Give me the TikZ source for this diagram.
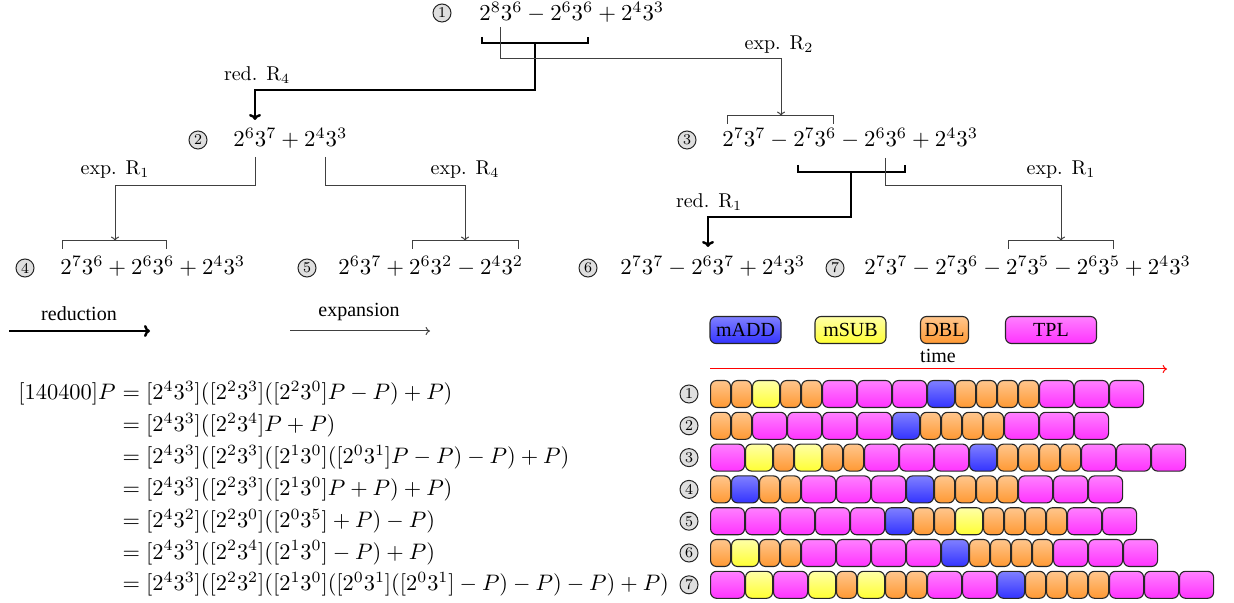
\RequirePackage{fix-cm}
\documentclass[tikz,border=0pt]{standalone}
\usepackage{fontspec}
\newfontfamily\tms{Liberation Serif}
\usetikzlibrary{arrows.meta}
\tikzset{
  num/.style={circle, draw=black!85, line width=0.5pt, fill=gray!25, inner sep=0pt, minimum size=9pt, font=\fontsize{7.5}{7.5}\selectfont},
  expr/.style={anchor=base west, inner sep=0pt, font=\fontsize{11.4}{13}\selectfont},
  eqn/.style={anchor=base west, inner sep=0pt, font=\fontsize{11.2}{13}\selectfont},
  lbl/.style={inner sep=0pt, font=\fontsize{10}{12}\selectfont},
  tlbl/.style={inner sep=0pt, font=\tms\fontsize{10}{12}\selectfont},
  thinc/.style={draw=black!75, line width=0.5pt},
  thinarr/.style={thinc, -{To[length=2.2pt,width=4pt]}},
  thickc/.style={draw=black, line width=1.2pt},
  thickarr/.style={thickc, -{To[length=3pt,width=6pt]}},
  opbase/.style={draw=black!85, line width=0.55pt, rounded corners=3pt, minimum height=13.5pt, inner sep=0pt, anchor=west},
  opD/.style={opbase, minimum width=10pt, top color=orange!45, bottom color=orange!80},
  opA/.style={opbase, minimum width=13.5pt, top color=blue!50, bottom color=blue!80},
  opS/.style={opbase, minimum width=13.5pt, top color=yellow!35, bottom color=yellow!80},
  opT/.style={opbase, minimum width=17pt, top color=magenta!50, bottom color=magenta!80},
  legbox/.style={draw=black!85, line width=0.55pt, rounded corners=3pt, minimum height=13.5pt, inner sep=0pt, font=\tms\fontsize{10}{12}\selectfont},
}
\def\wD{21}\def\wA{28}\def\wS{28}\def\wT{35}
\newcommand\oprow[3]{%
  \xdef\curx{710}%
  \foreach \op [count=\k] in {#3}{%
    \node[op\op] (r#1b\k) at (\curx,#2) {};
    \pgfmathsetmacro\nx{\curx+\csname w\op\endcsname}%
    \xdef\curx{\nx}%
  }}
\begin{document}
\begin{tikzpicture}[x=0.5pt,y=-0.5pt]
\useasboundingbox (0,0) rectangle (1234,603);

% ---------- tree ----------
\node[num] (c1) at (442,13) {1};
\node[expr] (e1) at (479,21) {$2^8 3^6 - 2^6 3^6 + 2^4 3^3$};
\node[num] (c2) at (198,140) {2};
\node[expr] (e2) at (233,147) {$2^6 3^7 + 2^4 3^3$};
\node[num] (c3) at (687,140) {3};
\node[expr] (e3) at (722,147) {$2^7 3^7 - 2^7 3^6 - 2^6 3^6 + 2^4 3^3$};
\node[num] (c4) at (25,268) {4};
\node[expr] (e4) at (60,275) {$2^7 3^6 + 2^6 3^6 + 2^4 3^3$};
\node[num] (c5) at (307,268) {5};
\node[expr] (e5) at (338,275) {$2^6 3^7 + 2^6 3^2 - 2^4 3^2$};
\node[num] (c6) at (588,268) {6};
\node[expr] (e6) at (620,275) {$2^7 3^7 - 2^6 3^7 + 2^4 3^3$};
\node[num] (c7) at (835,268) {7};
\node[expr] (e7) at (864,275) {$2^7 3^7 - 2^7 3^6 - 2^7 3^5 - 2^6 3^5 + 2^4 3^3$};

% 1 -> 2 (reduction R4)
\coordinate (b1l) at (482,37); \coordinate (b1r) at (588,37);
\draw[thickc] (b1l) -- ++(0,6) -| (b1r);
\coordinate (b1m) at (535,43); \coordinate (t1) at (535,90); \coordinate (a2) at (255,120);
\draw[thickarr] (b1m) -- (t1) -| (a2);
\node[lbl] (lr4) at (257,75) {red. $\mathrm{R}_4$};
% 1 -> 3 (expansion R2)
\coordinate (s1) at (500,27); \coordinate (k1) at (500,59); \coordinate (a3) at (781,116);
\draw[thinarr] (s1) -- (k1) -| (a3);
\coordinate (b3l) at (727,124); \coordinate (b3r) at (833,124);
\draw[thinc] (b3l) -- ++(0,-8) -| (b3r);
\node[lbl] (le2) at (779,45) {exp. $\mathrm{R}_2$};

% 2 -> 4 (expansion R1)
\coordinate (s2a) at (255,157); \coordinate (k2a) at (255,186); \coordinate (a4) at (115,241);
\draw[thinarr] (s2a) -- (k2a) -| (a4);
\coordinate (b4l) at (62,249); \coordinate (b4r) at (166,249);
\draw[thinc] (b4l) -- ++(0,-8) -| (b4r);
\node[lbl] (le1a) at (115,170) {exp. $\mathrm{R}_1$};
% 2 -> 5 (expansion R4)
\coordinate (s2b) at (325,157); \coordinate (k2b) at (325,186); \coordinate (a5) at (465,241);
\draw[thinarr] (s2b) -- (k2b) -| (a5);
\coordinate (b5l) at (412,249); \coordinate (b5r) at (518,249);
\draw[thinc] (b5l) -- ++(0,-8) -| (b5r);
\node[lbl] (le4) at (465,170) {exp. $\mathrm{R}_4$};

% 3 -> 6 (reduction R1)
\coordinate (b6l) at (798,165); \coordinate (b6r) at (905,165);
\draw[thickc] (b6l) -- ++(0,7) -| (b6r);
\coordinate (b6m) at (851,172); \coordinate (t6) at (851,217); \coordinate (a6) at (708,247);
\draw[thickarr] (b6m) -- (t6) -| (a6);
\node[lbl] (lr1) at (709,202) {red. $\mathrm{R}_1$};
% 3 -> 7 (expansion R1)
\coordinate (s3) at (885,158); \coordinate (k3) at (885,186); \coordinate (a7) at (1061,241);
\draw[thinarr] (s3) -- (k3) -| (a7);
\coordinate (b7l) at (1008,249); \coordinate (b7r) at (1113,249);
\draw[thinc] (b7l) -- ++(0,-8) -| (b7r);
\node[lbl] (le1b) at (1061,170) {exp. $\mathrm{R}_1$};

% ---------- legend ----------
\node[tlbl] (lred) at (79,314) {reduction};
\coordinate (rs) at (9,331); \coordinate (re) at (150,331);
\draw[thickarr] (rs) -- (re);
\node[tlbl] (lexp) at (359,312) {expansion};
\coordinate (xs) at (290,331); \coordinate (xe) at (430,331);
\draw[thinarr] (xs) -- (xe);

\node[legbox, minimum width=35.5pt, top color=blue!50, bottom color=blue!80] (gA) at (745.5,330) {mADD};
\node[legbox, minimum width=35.5pt, top color=yellow!35, bottom color=yellow!80] (gS) at (850.5,330) {mSUB};
\node[legbox, minimum width=24pt, top color=orange!45, bottom color=orange!80] (gD) at (944.5,330) {DBL};
\node[legbox, minimum width=45.5pt, top color=magenta!50, bottom color=magenta!80] (gT) at (1051,330) {TPL};
\node[tlbl] (ltime) at (938,356) {time};
\coordinate (ts) at (710,369); \coordinate (te) at (1167,369);
\draw[red, line width=0.5pt, -{To[length=2.2pt,width=4pt]}] (ts) -- (te);

% ---------- equations ----------
\node[eqn, anchor=base east] (l0) at (116,400) {$[140400]P$};
\node[eqn] (l1) at (116,400) {${}= [2^4 3^3]([2^2 3^3]([2^2 3^0]P - P) + P)$};
\node[eqn] (l2) at (116,431.8) {${}= [2^4 3^3]([2^2 3^4]P + P)$};
\node[eqn] (l3) at (116,463.6) {${}= [2^4 3^3]([2^2 3^3]([2^1 3^0]([2^0 3^1]P - P) - P) + P)$};
\node[eqn] (l4) at (116,495.4) {${}= [2^4 3^3]([2^2 3^3]([2^1 3^0]P + P) + P)$};
\node[eqn] (l5) at (116,527.2) {${}= [2^4 3^2]([2^2 3^0]([2^0 3^5] + P) - P)$};
\node[eqn] (l6) at (116,559) {${}= [2^4 3^3]([2^2 3^4]([2^1 3^0] - P) + P)$};
\node[eqn] (l7) at (116,590.8) {${}= [2^4 3^3]([2^2 3^2]([2^1 3^0]([2^0 3^1]([2^0 3^1] - P) - P) - P) + P)$};

% ---------- operation rows ----------
\foreach \i in {1,...,7}{
  \node[num] (n\i) at (689,{394+31.8*(\i-1)}) {\i};
}
\oprow{1}{394}{D,D,S,D,D,T,T,T,A,D,D,D,D,T,T,T}
\oprow{2}{425.8}{D,D,T,T,T,T,A,D,D,D,D,T,T,T}
\oprow{3}{457.6}{T,S,D,S,D,D,T,T,T,A,D,D,D,D,T,T,T}
\oprow{4}{489.4}{D,A,D,D,T,T,T,A,D,D,D,D,T,T,T}
\oprow{5}{521.2}{T,T,T,T,T,A,D,D,S,D,D,D,D,T,T}
\oprow{6}{553}{D,S,D,D,T,T,T,T,A,D,D,D,D,T,T,T}
\oprow{7}{584.8}{T,S,T,S,D,S,D,D,T,T,A,D,D,D,D,T,T,T}
\end{tikzpicture}
\end{document}
